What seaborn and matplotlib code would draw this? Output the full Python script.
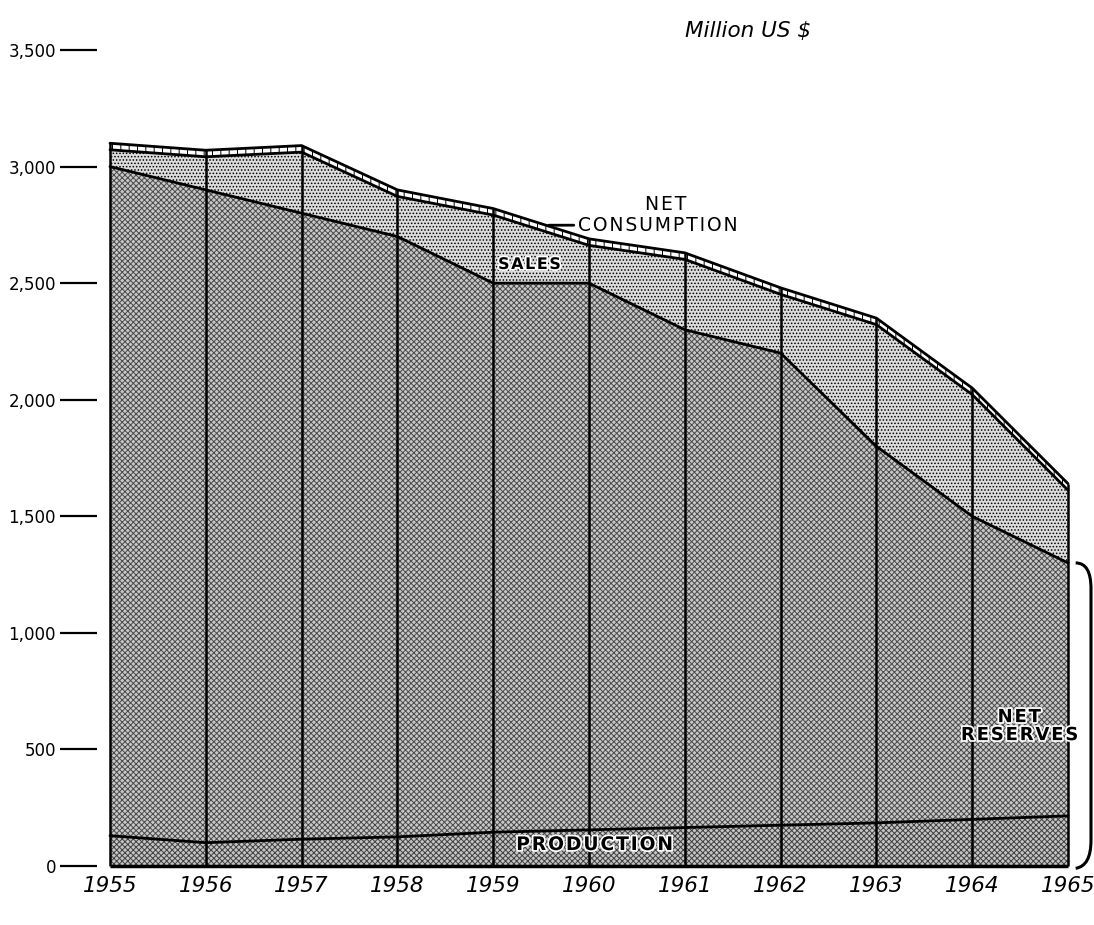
import matplotlib
matplotlib.use("Agg")
import matplotlib.pyplot as plt
import matplotlib.patheffects as pe
from matplotlib.path import Path
from matplotlib.patches import PathPatch
from matplotlib.ticker import FuncFormatter
import numpy as np
import seaborn as sns

years = [1955, 1956, 1957, 1958, 1959, 1960, 1961, 1962, 1963, 1964, 1965]
production = [130, 100, 115, 125, 145, 155, 165, 175, 185, 200, 215]
net_reserves_top = [3000, 2900, 2800, 2700, 2500, 2500, 2300, 2200, 1800, 1500, 1300]
sales_top = [3072, 3042, 3062, 2872, 2792, 2662, 2602, 2452, 2322, 2022, 1612]
consumption_top = [3100, 3070, 3090, 2900, 2820, 2690, 2630, 2480, 2350, 2050, 1640]
y_ticks = [0, 500, 1000, 1500, 2000, 2500, 3000, 3500]

sns.set_style("white")
plt.rcParams["font.family"] = ["DejaVu Sans"]
plt.rcParams["hatch.linewidth"] = 0.7
plt.rcParams["text.color"] = "black"
plt.rcParams["xtick.color"] = "black"
plt.rcParams["ytick.color"] = "black"
plt.rcParams["xtick.labelcolor"] = "black"
plt.rcParams["ytick.labelcolor"] = "black"


def spaced(s):
    # letter-spaced caps, like the original lettering
    return "\u200a".join(s)


fig = plt.figure(figsize=(10.94, 9.25), dpi=100)
ax = fig.add_axes([97 / 1094, 59 / 925, (1068 - 97) / 1094, (866 - 50) / 925])

x = np.array(years)
# stacked bands, bottom to top
ax.fill_between(x, 0, production, facecolor="#c4c4c4", edgecolor="#404040",
                hatch="xxxxxx", linewidth=0)
ax.fill_between(x, production, net_reserves_top, facecolor="#c8c8c8", edgecolor="#4a4a4a",
                hatch="xxxxxx", linewidth=0)
ax.fill_between(x, net_reserves_top, sales_top, facecolor="#dcdcdc", edgecolor="black",
                hatch=".....", linewidth=0)
ax.fill_between(x, sales_top, consumption_top, facecolor="white", edgecolor="black",
                hatch="||", linewidth=0)

# boundary lines
for series in [production, net_reserves_top, sales_top, consumption_top]:
    sns.lineplot(x=years, y=series, color="black", linewidth=2, ax=ax,
                 clip_on=False)
ax.vlines(years, 0, consumption_top, color="black", linewidth=1.8, clip_on=False)
ax.hlines(0, years[0], years[-1], color="black", linewidth=2.5, clip_on=False)

ax.set_xlim(1955 - 13 / 958 * 10, 1965)
ax.set_ylim(0, 3500)
for s in ax.spines.values():
    s.set_visible(False)

ax.set_yticks(y_ticks)
ax.yaxis.set_major_formatter(FuncFormatter(lambda v, p: f"{int(v):,}"))
ax.tick_params(axis="y", direction="out", length=26.5, width=1.6, pad=3,
               labelsize=12, color="black", left=True)
ax.set_xticks(years)
ax.set_xticklabels([str(y) for y in years], fontsize=15.5, style="italic")
ax.tick_params(axis="x", length=0, pad=7)
ax.set_xlabel("")
ax.set_ylabel("")

fig.text(0.626, 0.967, "Million US $", fontsize=15.5, style="italic", va="center")

halo = [pe.withStroke(linewidth=2.5, foreground="white")]

# net consumption label with leader
lead_x = 1959.55
lead_y = float(np.interp(lead_x, years, consumption_top))
ax.annotate("", xy=(lead_x, lead_y), xytext=(1959.87, lead_y),
            arrowprops=dict(arrowstyle="-", color="black", linewidth=2))
ax.text(1959.88, lead_y, spaced("CONSUMPTION"), fontsize=13.5, ha="left", va="center")
ax.text(1960.8, lead_y + 88, spaced("NET"), fontsize=13.5, ha="center", va="center")

ax.text(1959.38, 2580, spaced("SALES"), fontsize=11.5, weight="bold", ha="center",
        va="center", path_effects=halo)
ax.text(1964.49, 600, spaced("NET") + "\n" + spaced("RESERVES"), fontsize=13,
        weight="bold", ha="center", va="center", linespacing=1.0,
        path_effects=halo, clip_on=False)
ax.text(1960.06, 92, spaced("PRODUCTION"), fontsize=13.5, weight="bold", ha="center",
        va="center", path_effects=halo)

# bracket spanning production + net reserves at 1965
xb0, xb1 = 1965.08, 1965.24
top = net_reserves_top[-1]
r = 110
verts = [(xb0, top), (xb1, top), (xb1, top - r), (xb1, r), (xb1, 0), (xb0, -10)]
codes = [Path.MOVETO, Path.CURVE3, Path.CURVE3, Path.LINETO, Path.CURVE3, Path.CURVE3]
ax.add_patch(PathPatch(Path(verts, codes), facecolor="none", edgecolor="black",
                       linewidth=2.2, clip_on=False))

fig.savefig("out.png", dpi=100)
